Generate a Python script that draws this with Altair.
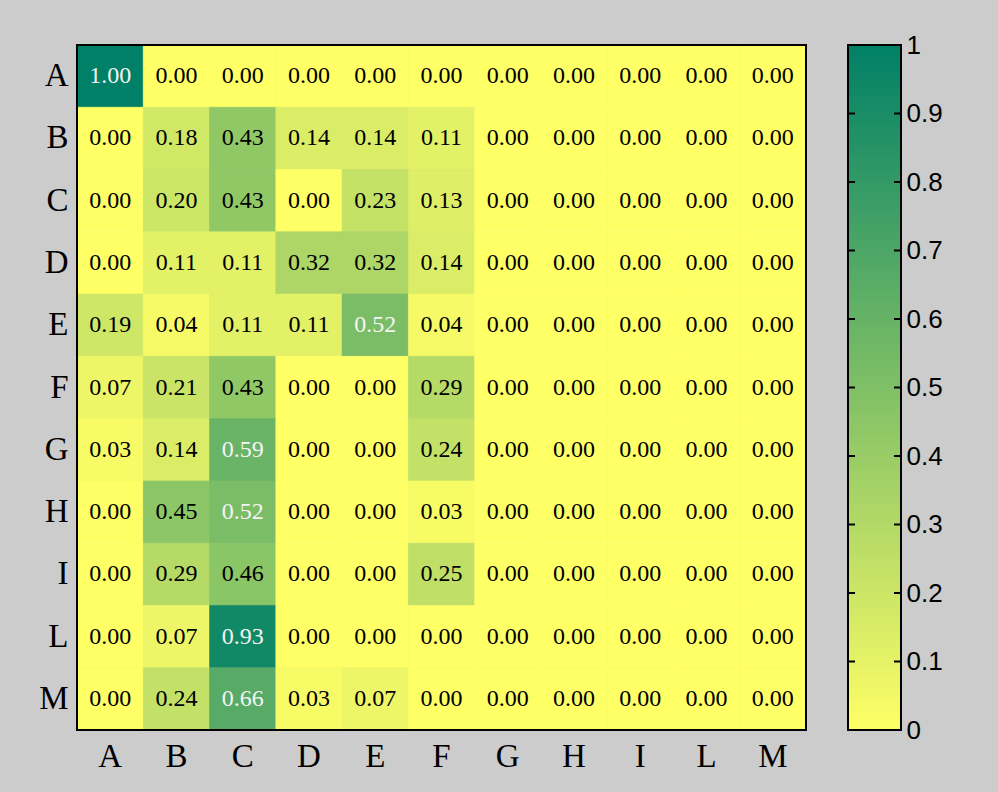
import altair as alt
import pandas as pd

rows = ["A", "B", "C", "D", "E", "F", "G", "H", "I", "L", "M"]
cols = ["A", "B", "C", "D", "E", "F", "G", "H", "I", "L", "M"]

row_A = [1.00, 0.00, 0.00, 0.00, 0.00, 0.00, 0.00, 0.00, 0.00, 0.00, 0.00]
row_B = [0.00, 0.18, 0.43, 0.14, 0.14, 0.11, 0.00, 0.00, 0.00, 0.00, 0.00]
row_C = [0.00, 0.20, 0.43, 0.00, 0.23, 0.13, 0.00, 0.00, 0.00, 0.00, 0.00]
row_D = [0.00, 0.11, 0.11, 0.32, 0.32, 0.14, 0.00, 0.00, 0.00, 0.00, 0.00]
row_E = [0.19, 0.04, 0.11, 0.11, 0.52, 0.04, 0.00, 0.00, 0.00, 0.00, 0.00]
row_F = [0.07, 0.21, 0.43, 0.00, 0.00, 0.29, 0.00, 0.00, 0.00, 0.00, 0.00]
row_G = [0.03, 0.14, 0.59, 0.00, 0.00, 0.24, 0.00, 0.00, 0.00, 0.00, 0.00]
row_H = [0.00, 0.45, 0.52, 0.00, 0.00, 0.03, 0.00, 0.00, 0.00, 0.00, 0.00]
row_I = [0.00, 0.29, 0.46, 0.00, 0.00, 0.25, 0.00, 0.00, 0.00, 0.00, 0.00]
row_L = [0.00, 0.07, 0.93, 0.00, 0.00, 0.00, 0.00, 0.00, 0.00, 0.00, 0.00]
row_M = [0.00, 0.24, 0.66, 0.03, 0.07, 0.00, 0.00, 0.00, 0.00, 0.00, 0.00]

matrix = [row_A, row_B, row_C, row_D, row_E, row_F, row_G, row_H, row_I, row_L, row_M]

colorbar_ticks = [0, 0.1, 0.2, 0.3, 0.4, 0.5, 0.6, 0.7, 0.8, 0.9, 1]
inner_ticks = [0.1, 0.2, 0.3, 0.4, 0.5, 0.6, 0.7, 0.8, 0.9]

LOW = "#ffff66"
HIGH = "#008066"

records = []
for r, vals in zip(rows, matrix):
    for c, v in zip(cols, vals):
        records.append({"row": r, "col": c, "v": v})
df = pd.DataFrame(records)

W, H = 729, 685
CBW = 53

cscale = alt.Scale(domain=[0, 1], range=[LOW, HIGH], interpolate="rgb")
one = pd.DataFrame({"k": [0]})

base = alt.Chart(df).encode(
    x=alt.X("col:N", sort=cols, title=None,
            axis=alt.Axis(labelAngle=0, ticks=False, domain=False, labelFont="Liberation Serif",
                          labelFontSize=33, labelColor="black", labelPadding=10)),
    y=alt.Y("row:N", sort=rows, title=None,
            axis=alt.Axis(ticks=False, domain=False, labelFont="Liberation Serif",
                          labelFontSize=33, labelColor="black", labelPadding=9)),
)

rects = base.mark_rect(strokeWidth=0.6).encode(
    color=alt.Color("v:Q", scale=cscale, legend=None),
    stroke=alt.Stroke("v:Q", scale=cscale, legend=None),
)
texts = base.mark_text(font="Liberation Serif", fontSize=24).encode(
    text=alt.Text("v:Q", format=".2f"),
    color=alt.condition(alt.datum.v >= 0.5, alt.value("#f4f4f4"), alt.value("black")),
)
heat_border = alt.Chart(one).mark_rect(filled=False, stroke="black", strokeWidth=2).encode(
    x=alt.value(0), x2=alt.value(W), y=alt.value(0), y2=alt.value(H))
heat = (rects + texts + heat_border).properties(width=W, height=H)

cb_df = pd.DataFrame({"lo": [0.0], "hi": [1.0]})
yscale = alt.Scale(domain=[0, 1], nice=False, zero=False)
grad = alt.Chart(cb_df).mark_rect(
    color=alt.Gradient(
        gradient="linear",
        stops=[alt.GradientStop(color=LOW, offset=0), alt.GradientStop(color=HIGH, offset=1)],
        x1=0, x2=0, y1=1, y2=0,
    )
).encode(
    x=alt.value(0), x2=alt.value(CBW),
    y=alt.Y("lo:Q", scale=yscale, title=None,
            axis=alt.Axis(orient="right", values=colorbar_ticks, format="~g", tickSize=0,
                          domain=False, grid=False, labelFont="Liberation Sans",
                          labelFontSize=26, labelColor="black", labelPadding=5)),
    y2="hi:Q",
)
tk_df = pd.DataFrame({"t": inner_ticks})
tk_left = alt.Chart(tk_df).mark_rule(color="black", strokeWidth=2).encode(
    y=alt.Y("t:Q", scale=yscale), x=alt.value(0), x2=alt.value(7))
tk_right = alt.Chart(tk_df).mark_rule(color="black", strokeWidth=2).encode(
    y=alt.Y("t:Q", scale=yscale), x=alt.value(CBW - 7), x2=alt.value(CBW))
cb_border = alt.Chart(one).mark_rect(filled=False, stroke="black", strokeWidth=2).encode(
    x=alt.value(0), x2=alt.value(CBW), y=alt.value(0), y2=alt.value(H))
cbar = (grad + tk_left + tk_right + cb_border).properties(width=CBW, height=H)

chart = alt.hconcat(heat, cbar, spacing=40).properties(
    background="#cccccc",
    padding={"left": 38, "top": 32, "right": 55, "bottom": 19},
).configure_view(stroke=None)

chart.save("out.html", embed_options={"renderer": "svg", "actions": False})
